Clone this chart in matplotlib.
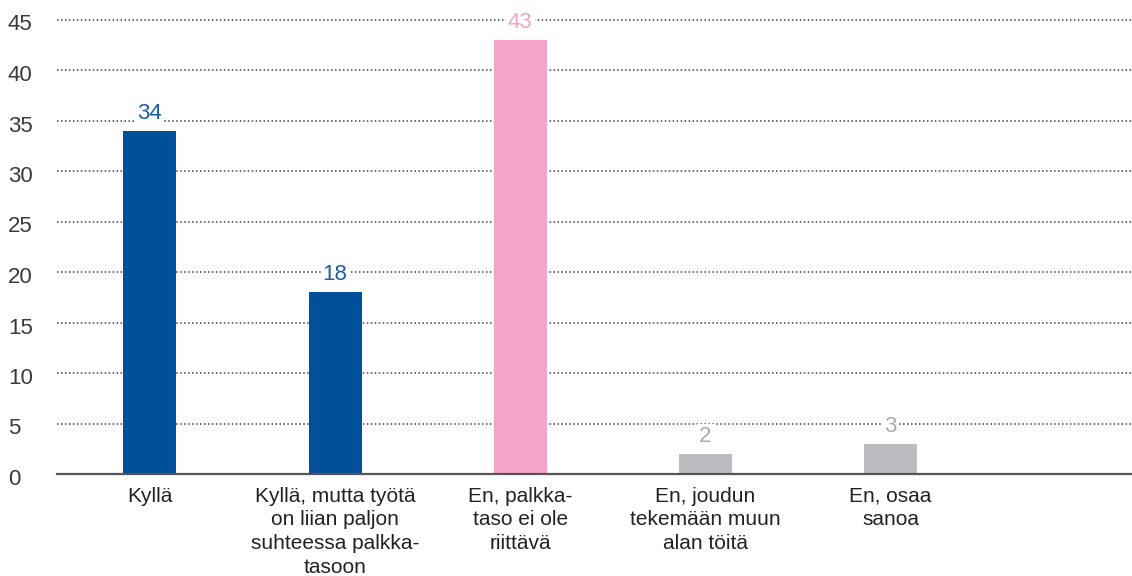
import numpy as np
import matplotlib.pyplot as plt
from matplotlib.transforms import ScaledTranslation

categories = ["Kyllä",
              "Kyllä, mutta työtä\non liian paljon\nsuhteessa palkka-\ntasoon",
              "En, palkka-\ntaso ei ole\nriittävä",
              "En, joudun\ntekemään muun\nalan töitä",
              "En, osaa\nsanoa"]
values = [34, 18, 43, 2, 3]
bar_colors = ["#004f9a", "#004f9a", "#f4a3c9", "#bcbdc0", "#bcbdc0"]
label_colors = ["#1a5ea8", "#1a5ea8", "#f4a3c9", "#a9aaad", "#a9aaad"]
yticks = [0, 5, 10, 15, 20, 25, 30, 35, 40, 45]

plt.rcParams["font.family"] = ["Liberation Sans", "DejaVu Sans"]
fig = plt.figure(figsize=(11.32, 5.76), dpi=100)
ax = fig.add_axes([57 / 1132, 1 - 474 / 576, 1 - 57 / 1132, (45.3 * 10.1) / 576])

x = np.arange(len(values))
ax.bar(x, values, width=0.286, color=bar_colors, zorder=2)
for xi, v, c in zip(x, values, label_colors):
    ax.text(xi, v + 0.7, str(v), ha="center", va="bottom", fontsize=16, color=c,
            bbox=dict(facecolor="white", edgecolor="none", pad=1.5), zorder=3)

ax.set_xlim(-0.502, 5.304)
ax.set_ylim(0, 45.3)
ax.set_yticks(yticks)
ax.set_yticklabels([str(t) for t in yticks], fontsize=16, color="#3a3a3a")
ax.tick_params(axis="y", length=0, pad=35.3)
shift = ScaledTranslation(0, -3 / 100, fig.dpi_scale_trans)
for t in ax.get_yticklabels():
    t.set_horizontalalignment("left")
    t.set_transform(t.get_transform() + shift)
ax.set_xticks(x)
ax.set_xticklabels(categories, fontsize=15, color="#222222", linespacing=1.33)
ax.tick_params(axis="x", length=0, pad=9)

for y in yticks[1:]:
    ax.axhline(y, color="#444444", lw=1.1, ls=(0, (1, 1.6)), zorder=1)
for s in ["top", "right", "left"]:
    ax.spines[s].set_visible(False)
ax.spines["bottom"].set_color("#555555")
ax.spines["bottom"].set_linewidth(1.6)

fig.savefig("out.png", dpi=100)
